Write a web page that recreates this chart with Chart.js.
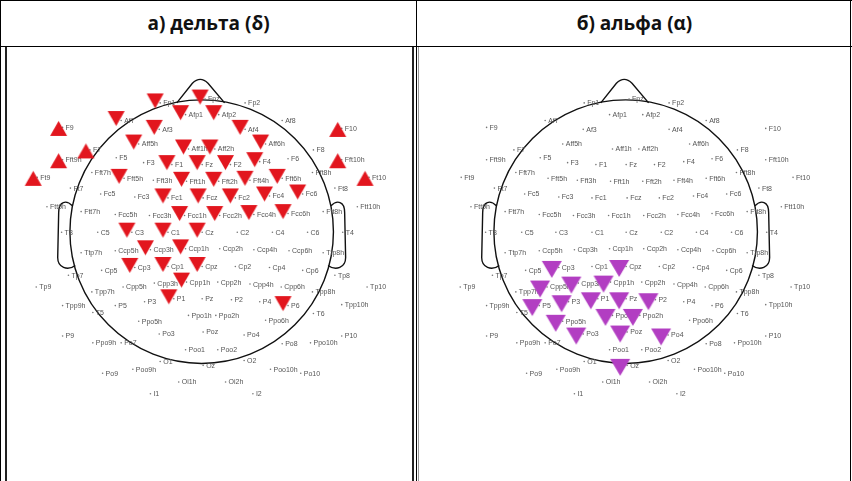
<!DOCTYPE html>
<html>
<head>
<meta charset="utf-8">
<script src="https://cdn.jsdelivr.net/npm/chart.js@4.4.0/dist/chart.umd.min.js"></script>
<style>
  html, body { margin: 0; padding: 0; background: #fff; }
  #page { position: relative; width: 852px; height: 481px; overflow: hidden; }
  .title { position: absolute; top: 0; height: 47px; line-height: 46px; text-align: center;
           font-family: "Open Sans", "Noto Sans", sans-serif; font-weight: bold; font-size: 19px; color: #111; }
  .rule { position: absolute; background: #000; }
  canvas { position: absolute; top: 0; }
</style>
</head>
<body>
<div id="page">
  <div class="title" style="left:0;width:417px;">а) дельта (δ)</div>
  <div class="title" style="left:417px;width:435px;">б) альфа (α)</div>
  <div class="rule" style="left:0;top:0;width:852px;height:1px;"></div>
  <div class="rule" style="left:0;top:46px;width:852px;height:1px;"></div>
  <div class="rule" style="left:0;top:0;width:1px;height:481px;"></div>
  <div class="rule" style="left:416px;top:0;width:1px;height:481px;"></div>
  <div class="rule" style="left:850px;top:0;width:1px;height:481px;"></div>
  <div class="rule" style="left:5px;top:47px;width:1.5px;height:434px;background:#222;"></div>
  <div class="rule" style="left:412px;top:47px;width:1.5px;height:434px;background:#222;"></div>
  <div class="rule" style="left:418px;top:47px;width:1px;height:434px;background:#999;"></div>
  <canvas id="deltaChart" width="417" height="481" style="left:0;"></canvas>
  <canvas id="alphaChart" width="417" height="481" style="left:424px;"></canvas>
</div>
<script>
// Electrode montage (10-5 labels as printed on the maps) and their positions on the map
const electrodes = [
  'Fp1','Fpz','Fp2','Af7','Afp1','Afp2','Af8','Af3','Af4','Aff5h','Aff1h','Aff2h','Aff6h',
  'F9','F7','F5','F3','F1','Fz','F2','F4','F6','F8','F10',
  'Fft9h','Fft7h','Fft5h','Fft3h','Fft1h','Fft2h','Fft4h','Fft6h','Fft8h','Fft10h',
  'Ft9','Ft7','Fc5','Fc3','Fc1','Fcz','Fc2','Fc4','Fc6','Ft8','Ft10',
  'Ftt9h','Ftt7h','Fcc5h','Fcc3h','Fcc1h','Fcc2h','Fcc4h','Fcc6h','Ftt8h','Ftt10h',
  'T3','C5','C3','C1','Cz','C2','C4','C6','T4',
  'Ttp7h','Ccp5h','Ccp3h','Ccp1h','Ccp2h','Ccp4h','Ccp6h','Ttp8h',
  'Tp9','Tp7','Cp5','Cp3','Cp1','Cpz','Cp2','Cp4','Cp6','Tp8','Tp10',
  'Tpp9h','Tpp7h','Cpp5h','Cpp3h','Cpp1h','Cpp2h','Cpp4h','Cpp6h','Tpp8h','Tpp10h',
  'T5','P5','P3','P1','Pz','P2','P4','P6','T6',
  'P9','Ppo9h','Ppo5h','Ppo1h','Ppo2h','Ppo6h','Ppo10h','P10',
  'Po7','Po3','Poz','Po4','Po8','Poo1','Poo2','O1','Oz','O2',
  'Po9','Poo9h','Poo10h','Po10','Oi1h','Oi2h','I1','I2'
];
const electrodeX = [
  159,205,246,119,185,219,284,158,246,137,188,215,267,
  59,87,114,142,171,202,231,261,290,316,345,
  59,89,122,152,186,219,251,284,315,345,
  33,67,98,133,167,203,236,271,305,338,373,
  43,78,113,148,184,220,255,290,326,361,
  58,95,130,167,202,238,274,310,346,
  78,113,149,185,220,255,291,326,
  32,65,99,133,167,202,236,271,305,338,371,
  59,89,121,153,186,218,251,283,315,345,
  90,113,143,173,202,232,261,290,316,
  59,90,137,188,216,267,313,345,
  119,158,203,245,284,185,218,159,203,245,
  100,131,272,303,178,226,149,254
];
const electrodeY = [
  100,96,100,118,112,112,118,127,127,142,147,147,142,
  125,148,156,161,163,163,163,160,157,148,126,
  158,171,177,179,180,180,179,177,171,158,
  176,187,193,196,197,197,197,195,193,187,176,
  206,211,214,215,215,215,214,213,211,206,
  232,232,232,232,232,232,232,232,232,
  253,251,250,249,249,250,251,253,
  288,276,271,268,267,267,267,268,271,276,288,
  307,293,288,284,283,283,285,288,293,306,
  314,307,303,300,300,301,303,307,315,
  338,345,323,317,317,322,345,338,
  345,336,334,337,346,352,352,364,368,363,
  376,372,372,376,385,385,397,397
];

// Electrodes flagged on each map
const deltaDown = ['Fp1','Fpz','Af7','Afp1','Afp2','Af3','Af4','Aff5h','Aff1h','Aff2h','Aff6h',
  'F1','Fz','F2','F4','Fft5h','Fft1h','Fft2h','Fft4h','Fft6h',
  'Fc1','Fcz','Fc2','Fc4','Fc6','Fcc1h','Fcc2h','Fcc4h','Fcc6h',
  'C3','C1','Cz','Ccp3h','Ccp1h','Cp3','Cp1','Cpz','Cpp1h','P1','P6'];
const deltaUp = ['F9','Fft9h','F7','Ft9','F10','Fft10h','Ft10'];
const alphaDown = ['Cp3','Cpz','Cpp5h','Cpp3h','Cpp1h','P5','P3','P1','Pz','P2',
  'Ppo5h','Ppo1h','Ppo2h','Po3','Poz','Po4','Oz'];
const alphaUp = [];

// scalp outline geometry, same units as the electrode positions
const HEAD_CENTER = [201.5, 231.5];
const HEAD_RADIUS = 135;

function pointsFor(names) {
  return names.map(n => {
    const i = electrodes.indexOf(n);
    return { x: electrodeX[i], y: electrodeY[i] };
  });
}

// triangle marker drawn off-centre so it sits just left of the label
function triangleSprite(color, w, h, dx, dy, up) {
  const c = document.createElement('canvas');
  c.width = Math.ceil(w + 2 * Math.abs(dx) + 4);
  c.height = Math.ceil(h + 2 * Math.abs(dy) + 4);
  const g = c.getContext('2d');
  const cx = c.width / 2 + dx, cy = c.height / 2 + dy;
  g.fillStyle = color;
  g.beginPath();
  if (up) {
    g.moveTo(cx, cy - h / 2); g.lineTo(cx + w / 2, cy + h / 2); g.lineTo(cx - w / 2, cy + h / 2);
  } else {
    g.moveTo(cx - w / 2, cy - h / 2); g.lineTo(cx + w / 2, cy - h / 2); g.lineTo(cx, cy + h / 2);
  }
  g.closePath();
  g.fill();
  return c;
}

const headOutline = {
  id: 'headOutline',
  beforeDatasetsDraw(chart) {
    const { ctx, scales: { x, y } } = chart;
    const px = v => x.getPixelForValue(v);
    const py = v => y.getPixelForValue(v);
    ctx.save();
    ctx.strokeStyle = '#111';
    ctx.lineWidth = 1.4;

    // scalp
    const r = px(HEAD_CENTER[0] + HEAD_RADIUS) - px(HEAD_CENTER[0]);
    ctx.beginPath();
    ctx.arc(px(HEAD_CENTER[0]), py(HEAD_CENTER[1]), r, 0, Math.PI * 2);
    ctx.stroke();

    // nose
    ctx.beginPath();
    ctx.moveTo(px(176), py(100));
    ctx.lineTo(px(192), py(80));
    ctx.quadraticCurveTo(px(200), py(72), px(208), py(80));
    ctx.lineTo(px(225), py(100));
    ctx.stroke();

    // ears (mirrored about the midline)
    const mid = HEAD_CENTER[0] * 2;
    [v => v, v => mid - v].forEach(fx => {
      ctx.beginPath();
      ctx.moveTo(px(fx(69)), py(205));
      ctx.bezierCurveTo(px(fx(63)), py(199), px(fx(55)), py(200), px(fx(55)), py(212));
      ctx.lineTo(px(fx(54)), py(258));
      ctx.bezierCurveTo(px(fx(54)), py(268), px(fx(64)), py(272), px(fx(72)), py(266));
      ctx.stroke();
    });

    // electrode labels
    ctx.fillStyle = '#555';
    ctx.font = '7px "Liberation Sans", Arial, sans-serif';
    ctx.textBaseline = 'middle';
    electrodes.forEach((name, i) => {
      ctx.fillText(name, px(electrodeX[i]) + 3, py(electrodeY[i]) + 0.5);
    });
    ctx.restore();
  }
};

function drawMap(canvasId, down, up, color, size, offset) {
  const canvas = document.getElementById(canvasId);
  const ctx = canvas.getContext('2d');
  return new Chart(ctx, {
    type: 'scatter',
    data: {
      datasets: [
        {
          label: 'down',
          data: pointsFor(down),
          pointStyle: triangleSprite(color, size[0], size[1], offset[0], offset[1], false),
          order: 0
        },
        {
          label: 'up',
          data: pointsFor(up),
          pointStyle: triangleSprite(color, size[0], size[1], offset[0] + 1, offset[1] + 3, true),
          order: 1
        },
        {
          label: 'electrodes',
          data: electrodes.map((n, i) => ({ x: electrodeX[i], y: electrodeY[i] })),
          pointRadius: 0.8,
          pointBackgroundColor: '#777',
          pointBorderWidth: 0,
          order: 2
        }
      ]
    },
    options: {
      responsive: false,
      animation: false,
      events: [],
      layout: { padding: 0 },
      plugins: { legend: { display: false }, tooltip: { enabled: false } },
      scales: {
        x: { type: 'linear', min: 0, max: 417, display: false },
        y: { type: 'linear', min: 0, max: 481, reverse: true, display: false }
      }
    },
    plugins: [headOutline]
  });
}

drawMap('deltaChart', deltaDown, deltaUp, '#e2161e', [17, 15], [-5, -2]);
drawMap('alphaChart', alphaDown, alphaUp, '#b23ec2', [20, 17], [-7, 2]);
</script>
</body>
</html>
